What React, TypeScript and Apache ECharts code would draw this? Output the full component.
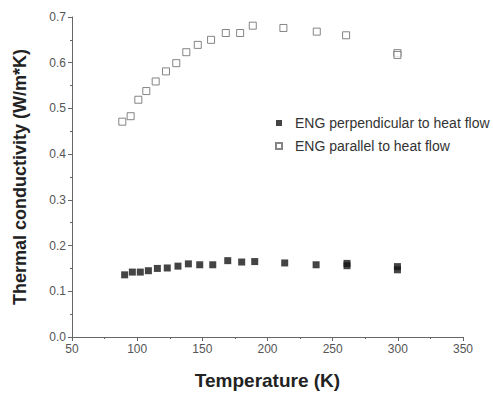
import React, { useEffect, useRef } from "react";
import * as echarts from "echarts";

const seriesNames = ["ENG perpendicular to heat flow", "ENG parallel to heat flow"];

const perpT = [90.4, 96.3, 102.4, 108.6, 115.5, 123.1, 131.3, 139.3, 148, 158, 169.5, 180.2, 190.2, 213.2, 237.3, 261, 261, 299.7, 299.7];
const perpK = [0.136, 0.142, 0.142, 0.145, 0.15, 0.151, 0.155, 0.16, 0.158, 0.158, 0.167, 0.164, 0.165, 0.162, 0.158, 0.161, 0.156, 0.154, 0.147];

const paraT = [88.6, 95, 100.9, 107, 114.2, 122.1, 130, 137.7, 146.5, 156.7, 168, 179, 188.7, 212.2, 237.8, 260.3, 299.7, 299.7];
const paraK = [0.471, 0.483, 0.519, 0.538, 0.559, 0.581, 0.599, 0.623, 0.639, 0.65, 0.665, 0.665, 0.681, 0.676, 0.668, 0.66, 0.621, 0.617];

const xTitle = "Temperature (K)";
const yTitle = "Thermal conductivity (W/m*K)";

export default function App() {
  const ref = useRef<HTMLDivElement>(null);
  useEffect(() => {
    if (!ref.current) return;
    const chart = echarts.init(ref.current, undefined, { renderer: "svg" });
    const font = "Arial, Liberation Sans, sans-serif";
    const axisCommon = {
      axisLine: { show: true, lineStyle: { color: "#666", width: 1 } },
      axisTick: { show: true, inside: false, length: 4, lineStyle: { color: "#666" } },
      minorTick: { show: true, splitNumber: 2, length: 2, lineStyle: { color: "#666" } },
      splitLine: { show: false },
      axisLabel: { color: "#555", fontSize: 12, fontFamily: font },
      nameTextStyle: { color: "#222", fontSize: 19, fontWeight: "bold", fontFamily: font },
    };
    chart.setOption({
      animation: false,
      backgroundColor: "#fff",
      grid: { left: 72, right: 30, top: 17, bottom: 57 },
      legend: {
        orient: "vertical",
        left: 270,
        top: 111,
        icon: "rect",
        itemWidth: 6,
        itemHeight: 6,
        itemGap: 9,
        textStyle: { color: "#333", fontSize: 14, fontFamily: font, padding: [0, 0, 0, 8] },
        data: seriesNames,
      },
      xAxis: {
        type: "value",
        min: 50,
        max: 350,
        interval: 50,
        name: xTitle,
        nameLocation: "middle",
        nameGap: 34,
        ...axisCommon,
        axisLabel: { ...axisCommon.axisLabel, margin: 6 },
      },
      yAxis: {
        type: "value",
        min: 0,
        max: 0.7,
        interval: 0.1,
        name: yTitle,
        nameLocation: "middle",
        nameGap: 43,
        ...axisCommon,
        nameTextStyle: { ...axisCommon.nameTextStyle, fontSize: 18 },
        axisLabel: { ...axisCommon.axisLabel, margin: 6, formatter: (v: number) => v.toFixed(1) },
      },
      series: [
        {
          name: seriesNames[0],
          type: "scatter",
          symbol: "rect",
          symbolSize: 7,
          itemStyle: { color: "#151515", borderColor: "#151515", borderWidth: 0 },
          data: perpT.map((t, i) => [t, perpK[i]]),
        },
        {
          name: seriesNames[1],
          type: "scatter",
          symbol: "rect",
          symbolSize: 7,
          itemStyle: { color: "#fff", borderColor: "#666", borderWidth: 1 },
          data: paraT.map((t, i) => [t, paraK[i]]),
        },
      ],
    });
    return () => chart.dispose();
  }, []);
  return <div ref={ref} style={{ width: 493, height: 395, position: "absolute", left: 0, top: 0 }} />;
}
